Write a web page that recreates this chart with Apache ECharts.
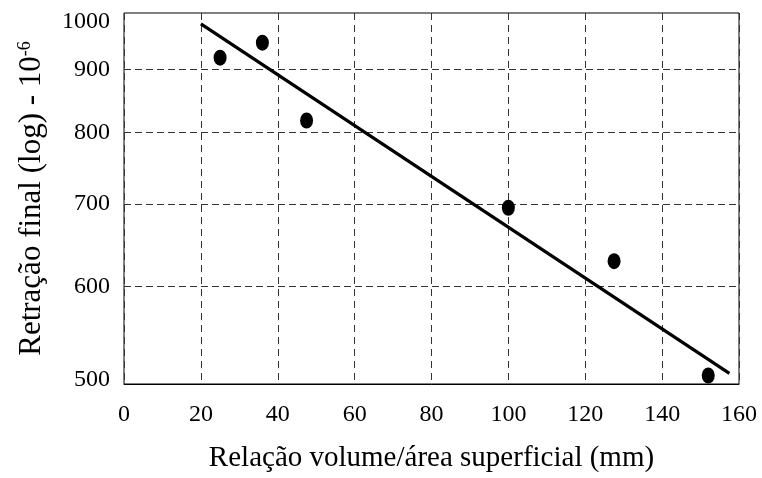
<!DOCTYPE html>
<html>
<head>
<meta charset="utf-8">
<script src="https://cdn.jsdelivr.net/npm/echarts@6/dist/echarts.min.js"></script>
<style>html,body{margin:0;padding:0;background:#fff;}#c{width:762px;height:478px;}</style>
</head>
<body>
<div id="c"></div>
<script>
// Data
const pointX = [25, 36, 47.5, 100, 127.5, 152];
const pointY = [920, 946, 818, 695, 629, 508];
const trendX = [20, 157.5];
const trendY = [980, 510];
const yTicks = [500, 600, 700, 800, 900, 1000];
const xMin = 0, xMax = 160, xStep = 20;
const yMin = 500, yMax = 1000;

const FONT = "'Liberation Serif', 'Times New Roman', serif";

const points = pointX.map((x, i) => [x, pointY[i]]);
const trend = trendX.map((x, i) => [x, trendY[i]]);

const gridMarks = yTicks.map(v => {
  const edge = (v === yMin || v === yMax);
  const item = { yAxis: v };
  if (edge) item.lineStyle = { color: 'rgba(0,0,0,0)' };
  if (v === yMax) item.label = { offset: [0, 9] };
  if (v === yMin) item.label = { offset: [0, -4] };
  return item;
});

const chart = echarts.init(document.getElementById('c'), null, { renderer: 'canvas' });
chart.setOption({
  animation: false,
  backgroundColor: '#fff',
  grid: {
    left: 124, right: 23, top: 13, bottom: 92,
    show: true, borderColor: '#000', borderWidth: 1, backgroundColor: 'transparent'
  },
  xAxis: {
    type: 'value', min: xMin, max: xMax, interval: xStep,
    name: 'Relação volume/área superficial (mm)',
    nameLocation: 'middle', nameGap: 60,
    nameTextStyle: { fontFamily: FONT, fontSize: 29, color: '#000' },
    axisLine: { show: true, lineStyle: { color: '#000', width: 1 } },
    axisTick: { show: false },
    axisLabel: { fontFamily: FONT, fontSize: 24, color: '#000', margin: 19 },
    splitLine: { show: true, lineStyle: { color: '#333', width: 1, type: [7, 5] } }
  },
  yAxis: {
    type: 'log', logBase: 10, min: yMin, max: yMax,
    name: '{t|Retração final (log) - 10}{s|-6}',
    nameLocation: 'middle', nameGap: 76, nameRotate: 90,
    nameTextStyle: {
      fontFamily: FONT, fontSize: 31, color: '#000',
      rich: {
        t: { fontFamily: FONT, fontSize: 31, color: '#000' },
        s: { fontFamily: FONT, fontSize: 18, color: '#000', verticalAlign: 'top', padding: [0, 0, 14, 0] }
      }
    },
    axisLine: { show: false },
    axisTick: { show: false },
    axisLabel: { show: false },
    splitLine: { show: false }
  },
  series: [
    {
      type: 'line', data: [], z: 1, silent: true,
      markLine: {
        silent: true, symbol: ['none', 'none'], z: 1, animation: false,
        lineStyle: { color: '#333', width: 1, type: [7, 4] },
        label: {
          show: true, position: 'start', distance: 14, formatter: '{c}',
          fontFamily: FONT, fontSize: 24, color: '#000'
        },
        data: gridMarks
      }
    },
    {
      type: 'line', data: trend, z: 3, showSymbol: false, symbol: 'none',
      lineStyle: { color: '#000', width: 3.2 }
    },
    {
      type: 'scatter', data: points, z: 4,
      symbol: 'circle', symbolSize: [13, 16],
      itemStyle: { color: '#000', opacity: 1 }
    }
  ]
});
</script>
</body>
</html>
